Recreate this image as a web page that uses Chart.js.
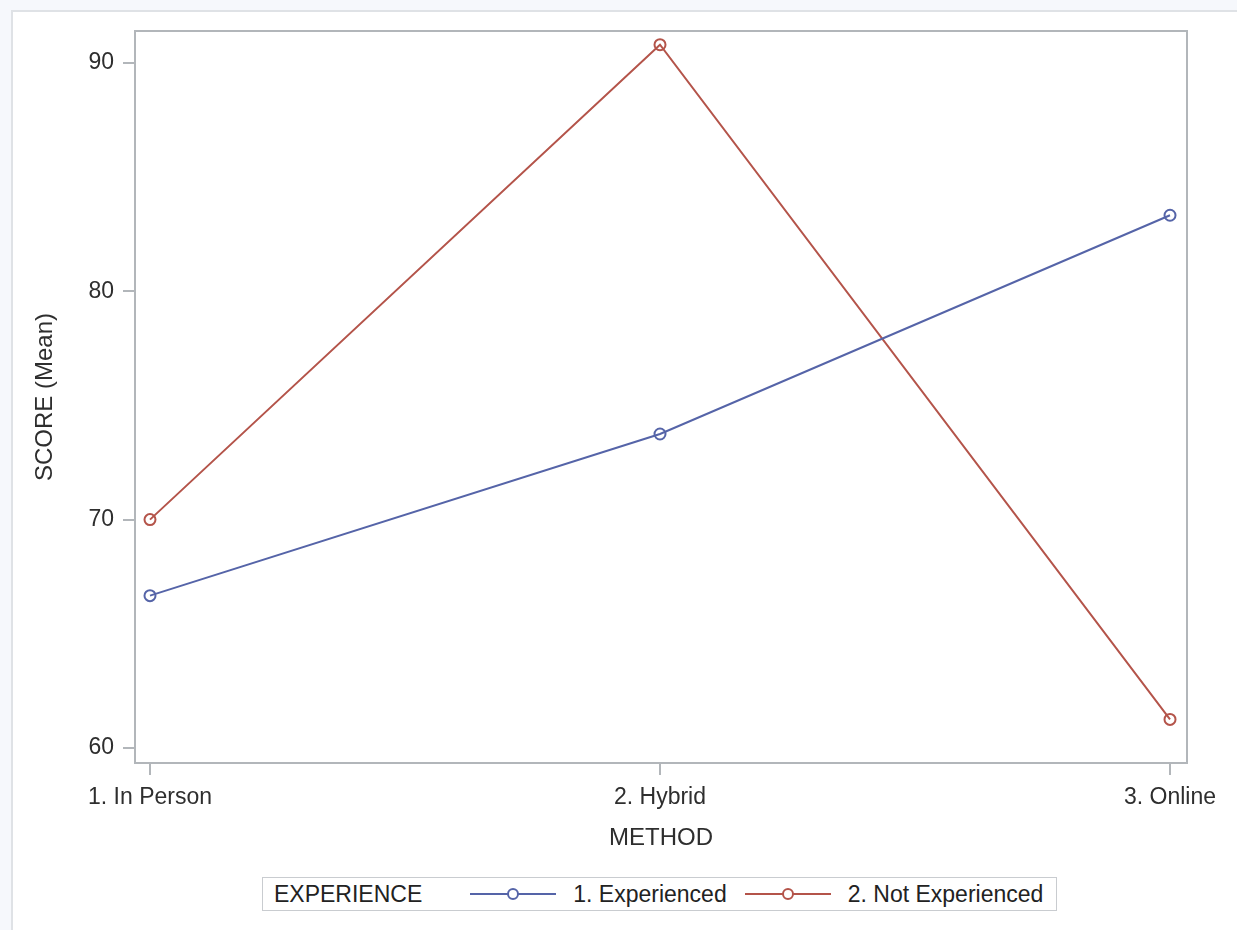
<!DOCTYPE html>
<html>
<head>
<meta charset="utf-8">
<script src="https://cdn.jsdelivr.net/npm/chart.js@4.4.1/dist/chart.umd.min.js"></script>
<style>
  html, body { margin:0; padding:0; background:#f6f8fc; font-family:"Liberation Sans", Arial, sans-serif; }
  #page { position:absolute; left:11px; top:10px; width:1240px; height:930px; background:#fff;
          border-left:2px solid #dfe2e6; border-top:2px solid #dfe2e6; }
  #wrap { position:absolute; left:0; top:0; width:1237px; height:930px; }
  #legend { position:absolute; left:262px; top:877px; width:793px; height:32px; border:1px solid #c9ccd0;
            background:#fff; display:flex; align-items:center; font-size:23px; color:#222; white-space:nowrap; }
  #legend .ttl { margin-left:11px; margin-right:48px; }
  #legend .item { display:flex; align-items:center; margin-right:18px; }
  #legend svg { margin-right:17px; }
</style>
</head>
<body>
<div id="page"></div>
<div id="wrap"><canvas id="c" width="1237" height="930"></canvas></div>
<div id="legend"></div>
<script>
(function(){
  const methods = ['1. In Person', '2. Hybrid', '3. Online'];
  const groups = ['1. Experienced', '2. Not Experienced'];
  const experienced = [66.67, 73.75, 83.33];
  const notExperienced = [70.0, 90.8, 61.25];
  const yTicks = [60, 70, 80, 90];
  const legendTitle = 'EXPERIENCE';
  const colors = ['#5564a8', '#b4544a'];

  const toPts = arr => arr.map((v, i) => ({ x: i + 1, y: v }));
  const font = { family: '"Liberation Sans", Arial, sans-serif', size: 23 };
  const axisGray = '#b2b6ba';

  // frame round the plot area
  const frame = {
    id: 'frame',
    beforeDatasetsDraw(chart) {
      const a = chart.chartArea, ctx = chart.ctx;
      ctx.save();
      ctx.strokeStyle = axisGray; ctx.lineWidth = 2;
      ctx.strokeRect(a.left, a.top, a.right - a.left, a.bottom - a.top);
      ctx.restore();
    }
  };

  // legend drawn as html, title inline like SAS
  const htmlLegend = {
    id: 'htmlLegend',
    afterUpdate(chart) {
      const box = document.getElementById('legend');
      box.innerHTML = '';
      const t = document.createElement('span');
      t.className = 'ttl'; t.textContent = legendTitle;
      box.appendChild(t);
      chart.data.datasets.forEach(ds => {
        const it = document.createElement('span');
        it.className = 'item';
        const c = ds.borderColor;
        it.innerHTML = '<svg width="86" height="20"><line x1="0" y1="10" x2="86" y2="10" stroke="' + c +
          '" stroke-width="2"/><circle cx="43" cy="10" r="5" fill="#fff" stroke="' + c + '" stroke-width="2"/></svg>';
        const s = document.createElement('span');
        s.textContent = ds.label;
        it.appendChild(s);
        box.appendChild(it);
      });
    }
  };

  const mk = (label, data, col) => ({
    label, data: toPts(data), borderColor: col, backgroundColor: 'transparent',
    borderWidth: 2, pointRadius: 5.5, pointBorderWidth: 2, pointBackgroundColor: 'transparent',
    pointBorderColor: col, tension: 0
  });

  new Chart(document.getElementById('c'), {
    type: 'line',
    data: { datasets: [mk(groups[0], experienced, colors[0]), mk(groups[1], notExperienced, colors[1])] },
    options: {
      responsive: false, animation: false,
      layout: { padding: { left: 0, top: 31, right: 50, bottom: 67 } },
      plugins: { legend: { display: false }, tooltip: { enabled: false } },
      scales: {
        x: {
          type: 'linear', min: 0.9706, max: 3.0333,
          afterFit: s => { s.height = 100; },
          afterBuildTicks: s => { s.ticks = methods.map((m, i) => ({ value: i + 1 })); },
          ticks: { font, color: '#2e2e2e', padding: 9, callback: v => methods[v - 1] },
          grid: { drawOnChartArea: false, drawTicks: true, tickLength: 12, color: axisGray, lineWidth: 2 },
          border: { display: false },
          title: { display: true, text: 'METHOD', font: { family: font.family, size: 24 }, color: '#2e2e2e',
                   padding: { top: 0, bottom: 10 } }
        },
        y: {
          min: 59.34, max: 91.4,
          afterFit: s => { s.width = 135; },
          afterBuildTicks: s => { s.ticks = yTicks.map(v => ({ value: v })); },
          ticks: { font, color: '#2e2e2e', padding: 9 },
          grid: { drawOnChartArea: false, drawTicks: true, tickLength: 12, color: axisGray, lineWidth: 2 },
          border: { display: false },
          title: { display: true, text: 'SCORE (Mean)', font: { family: font.family, size: 24 }, color: '#2e2e2e',
                   padding: { top: 31, bottom: 0 } }
        }
      }
    },
    plugins: [frame, htmlLegend]
  });
})();
</script>
</body>
</html>
